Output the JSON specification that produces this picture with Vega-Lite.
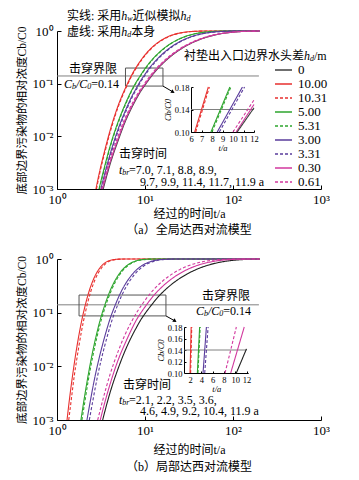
{
"$schema":"https://vega.github.io/schema/vega-lite/v6.json",
"padding":{"left":16,"top":10,"right":0,"bottom":0},
"background":"white",
"bounds":"flush",
"spacing":70,
"config":{
 "font":"Liberation Serif, Noto Sans CJK SC",
 "view":{"stroke":null},
 "axis":{"grid":false,"domainColor":"#000","tickColor":"#000","labelColor":"#000","titleColor":"#000","titleFontWeight":"normal","labelFont":"Liberation Serif","titleFont":"Liberation Serif, Noto Sans CJK SC","labelFlush":false,"labelOverlap":false,"domainWidth":1,"tickWidth":1},
 "title":{"fontWeight":"normal","color":"#000","font":"Liberation Serif, Noto Sans CJK SC","fontSize":12},
 "legend":{"labelFont":"Liberation Serif","labelColor":"#000"}
},
"resolve":{"scale":{"color":"independent","strokeDash":"independent"}},
"datasets":{
"ca":[
{"s":"0","t":3.35,"c":0.001},{"s":"0","t":4,"c":0.0029},{"s":"0","t":5,"c":0.0087},{"s":"0","t":6,"c":0.0195},{"s":"0","t":7,"c":0.034},{"s":"0","t":8,"c":0.052},{"s":"0","t":9,"c":0.073},{"s":"0","t":10,"c":0.094},{"s":"0","t":11.9,"c":0.14},{"s":"0","t":14,"c":0.194},{"s":"0","t":17,"c":0.268},{"s":"0","t":20,"c":0.339},{"s":"0","t":25,"c":0.443},{"s":"0","t":30,"c":0.532},{"s":"0","t":40,"c":0.667},{"s":"0","t":50,"c":0.761},{"s":"0","t":70,"c":0.875},{"s":"0","t":100,"c":0.95},{"s":"0","t":150,"c":0.989},{"s":"0","t":200,"c":0.997},
{"s":"10.00","t":2.77,"c":0.001},{"s":"10.00","t":3,"c":0.0019},{"s":"10.00","t":3.5,"c":0.0055},{"s":"10.00","t":4,"c":0.0127},{"s":"10.00","t":5,"c":0.04},{"s":"10.00","t":6,"c":0.083},{"s":"10.00","t":7,"c":0.142},{"s":"10.00","t":8,"c":0.2085},{"s":"10.00","t":10,"c":0.352},{"s":"10.00","t":12,"c":0.487},{"s":"10.00","t":15,"c":0.653},{"s":"10.00","t":20,"c":0.83},{"s":"10.00","t":25,"c":0.919},{"s":"10.00","t":30,"c":0.961},{"s":"10.00","t":40,"c":0.9919},{"s":"10.00","t":50,"c":0.9983},{"s":"10.00","t":70,"c":0.9999},{"s":"10.00","t":200,"c":1},
{"s":"10.31","t":2.81,"c":0.001},{"s":"10.31","t":3.04,"c":0.0019},{"s":"10.31","t":3.55,"c":0.0055},{"s":"10.31","t":4.06,"c":0.0127},{"s":"10.31","t":5.07,"c":0.04},{"s":"10.31","t":6.08,"c":0.083},{"s":"10.31","t":7.1,"c":0.142},{"s":"10.31","t":8.11,"c":0.2085},{"s":"10.31","t":10.14,"c":0.352},{"s":"10.31","t":12.17,"c":0.487},{"s":"10.31","t":15.21,"c":0.653},{"s":"10.31","t":20.28,"c":0.83},{"s":"10.31","t":25.35,"c":0.919},{"s":"10.31","t":30.42,"c":0.961},{"s":"10.31","t":40.56,"c":0.9919},{"s":"10.31","t":50.7,"c":0.9983},{"s":"10.31","t":71,"c":0.9999},{"s":"10.31","t":200,"c":1},
{"s":"5.00","t":3,"c":0.001},{"s":"5.00","t":3.5,"c":0.0028},{"s":"5.00","t":4,"c":0.0064},{"s":"5.00","t":5,"c":0.0198},{"s":"5.00","t":6,"c":0.042},{"s":"5.00","t":7,"c":0.073},{"s":"5.00","t":8,"c":0.109},{"s":"5.00","t":8.8,"c":0.14},{"s":"5.00","t":10,"c":0.193},{"s":"5.00","t":12,"c":0.283},{"s":"5.00","t":15,"c":0.412},{"s":"5.00","t":20,"c":0.59},{"s":"5.00","t":25,"c":0.718},{"s":"5.00","t":30,"c":0.808},{"s":"5.00","t":40,"c":0.91},{"s":"5.00","t":50,"c":0.959},{"s":"5.00","t":70,"c":0.991},{"s":"5.00","t":100,"c":0.999},{"s":"5.00","t":200,"c":1},
{"s":"5.31","t":3.03,"c":0.001},{"s":"5.31","t":3.54,"c":0.0028},{"s":"5.31","t":4.04,"c":0.0064},{"s":"5.31","t":5.06,"c":0.0198},{"s":"5.31","t":6.07,"c":0.042},{"s":"5.31","t":7.08,"c":0.073},{"s":"5.31","t":8.09,"c":0.109},{"s":"5.31","t":8.9,"c":0.14},{"s":"5.31","t":10.11,"c":0.193},{"s":"5.31","t":12.13,"c":0.283},{"s":"5.31","t":15.17,"c":0.412},{"s":"5.31","t":20.22,"c":0.59},{"s":"5.31","t":25.28,"c":0.718},{"s":"5.31","t":30.33,"c":0.808},{"s":"5.31","t":40.44,"c":0.91},{"s":"5.31","t":50.55,"c":0.959},{"s":"5.31","t":70.8,"c":0.991},{"s":"5.31","t":101,"c":0.999},{"s":"5.31","t":200,"c":1},
{"s":"3.00","t":3.15,"c":0.001},{"s":"3.00","t":3.5,"c":0.002},{"s":"3.00","t":4,"c":0.0045},{"s":"3.00","t":5,"c":0.0144},{"s":"3.00","t":6,"c":0.031},{"s":"3.00","t":7,"c":0.055},{"s":"3.00","t":8,"c":0.083},{"s":"3.00","t":9,"c":0.117},{"s":"3.00","t":9.7,"c":0.14},{"s":"3.00","t":11,"c":0.19},{"s":"3.00","t":13,"c":0.265},{"s":"3.00","t":16,"c":0.374},{"s":"3.00","t":20,"c":0.503},{"s":"3.00","t":25,"c":0.631},{"s":"3.00","t":30,"c":0.727},{"s":"3.00","t":40,"c":0.851},{"s":"3.00","t":50,"c":0.919},{"s":"3.00","t":70,"c":0.975},{"s":"3.00","t":100,"c":0.9957},{"s":"3.00","t":150,"c":0.9997},{"s":"3.00","t":200,"c":1},
{"s":"3.31","t":3.22,"c":0.001},{"s":"3.31","t":3.57,"c":0.002},{"s":"3.31","t":4.08,"c":0.0045},{"s":"3.31","t":5.1,"c":0.0144},{"s":"3.31","t":6.13,"c":0.031},{"s":"3.31","t":7.15,"c":0.055},{"s":"3.31","t":8.17,"c":0.083},{"s":"3.31","t":9.19,"c":0.117},{"s":"3.31","t":9.9,"c":0.14},{"s":"3.31","t":11.23,"c":0.19},{"s":"3.31","t":13.27,"c":0.265},{"s":"3.31","t":16.34,"c":0.374},{"s":"3.31","t":20.42,"c":0.503},{"s":"3.31","t":25.5,"c":0.631},{"s":"3.31","t":30.6,"c":0.727},{"s":"3.31","t":40.8,"c":0.851},{"s":"3.31","t":51,"c":0.919},{"s":"3.31","t":71.5,"c":0.975},{"s":"3.31","t":102,"c":0.9957},{"s":"3.31","t":153,"c":0.9997},{"s":"3.31","t":200,"c":1},
{"s":"0.30","t":3.29,"c":0.001},{"s":"0.30","t":3.93,"c":0.0029},{"s":"0.30","t":4.92,"c":0.0087},{"s":"0.30","t":5.9,"c":0.0195},{"s":"0.30","t":6.88,"c":0.034},{"s":"0.30","t":7.86,"c":0.052},{"s":"0.30","t":8.85,"c":0.073},{"s":"0.30","t":9.83,"c":0.094},{"s":"0.30","t":11.7,"c":0.14},{"s":"0.30","t":13.76,"c":0.194},{"s":"0.30","t":16.71,"c":0.268},{"s":"0.30","t":19.66,"c":0.339},{"s":"0.30","t":24.58,"c":0.443},{"s":"0.30","t":29.49,"c":0.532},{"s":"0.30","t":39.32,"c":0.667},{"s":"0.30","t":49.15,"c":0.761},{"s":"0.30","t":68.81,"c":0.875},{"s":"0.30","t":98.3,"c":0.95},{"s":"0.30","t":147.5,"c":0.989},{"s":"0.30","t":200,"c":0.998},
{"s":"0.61","t":3.21,"c":0.001},{"s":"0.61","t":3.83,"c":0.0029},{"s":"0.61","t":4.79,"c":0.0087},{"s":"0.61","t":5.75,"c":0.0195},{"s":"0.61","t":6.71,"c":0.034},{"s":"0.61","t":7.66,"c":0.052},{"s":"0.61","t":8.62,"c":0.073},{"s":"0.61","t":9.58,"c":0.094},{"s":"0.61","t":11.4,"c":0.14},{"s":"0.61","t":13.41,"c":0.194},{"s":"0.61","t":16.29,"c":0.268},{"s":"0.61","t":19.16,"c":0.339},{"s":"0.61","t":23.95,"c":0.443},{"s":"0.61","t":28.74,"c":0.532},{"s":"0.61","t":38.32,"c":0.667},{"s":"0.61","t":47.9,"c":0.761},{"s":"0.61","t":67.06,"c":0.875},{"s":"0.61","t":95.8,"c":0.95},{"s":"0.61","t":143.7,"c":0.989},{"s":"0.61","t":200,"c":0.998}
],
"cb":[
{"s":"0","t":3.3,"c":0.001},{"s":"0","t":4,"c":0.0032},{"s":"0","t":5,"c":0.0095},{"s":"0","t":6,"c":0.0203},{"s":"0","t":7,"c":0.035},{"s":"0","t":8,"c":0.053},{"s":"0","t":9,"c":0.0745},{"s":"0","t":10,"c":0.096},{"s":"0","t":11.9,"c":0.14},{"s":"0","t":14,"c":0.194},{"s":"0","t":17,"c":0.267},{"s":"0","t":20,"c":0.336},{"s":"0","t":25,"c":0.438},{"s":"0","t":30,"c":0.524},{"s":"0","t":40,"c":0.6575},{"s":"0","t":50,"c":0.751},{"s":"0","t":70,"c":0.866},{"s":"0","t":100,"c":0.944},{"s":"0","t":150,"c":0.9865},{"s":"0","t":200,"c":0.9967},
{"s":"10.00","t":1.3,"c":0.001},{"s":"10.00","t":1.4,"c":0.0028},{"s":"10.00","t":1.5,"c":0.0066},{"s":"10.00","t":1.6,"c":0.0137},{"s":"10.00","t":1.8,"c":0.0434},{"s":"10.00","t":2.0,"c":0.101},{"s":"10.00","t":2.1,"c":0.14},{"s":"10.00","t":2.3,"c":0.242},{"s":"10.00","t":2.6,"c":0.42},{"s":"10.00","t":3.0,"c":0.649},{"s":"10.00","t":3.5,"c":0.845},{"s":"10.00","t":4,"c":0.941},{"s":"10.00","t":5,"c":0.994},{"s":"10.00","t":6,"c":0.9995},{"s":"10.00","t":8,"c":1},{"s":"10.00","t":200,"c":1},
{"s":"10.31","t":1.36,"c":0.001},{"s":"10.31","t":1.47,"c":0.0028},{"s":"10.31","t":1.57,"c":0.0066},{"s":"10.31","t":1.68,"c":0.0137},{"s":"10.31","t":1.89,"c":0.0434},{"s":"10.31","t":2.1,"c":0.101},{"s":"10.31","t":2.2,"c":0.14},{"s":"10.31","t":2.41,"c":0.242},{"s":"10.31","t":2.72,"c":0.42},{"s":"10.31","t":3.14,"c":0.649},{"s":"10.31","t":3.67,"c":0.845},{"s":"10.31","t":4.19,"c":0.941},{"s":"10.31","t":5.24,"c":0.994},{"s":"10.31","t":6.29,"c":0.9995},{"s":"10.31","t":8.4,"c":1},{"s":"10.31","t":200,"c":1},
{"s":"5.00","t":1.87,"c":0.001},{"s":"5.00","t":2.0,"c":0.00205},{"s":"5.00","t":2.2,"c":0.0053},{"s":"5.00","t":2.5,"c":0.0164},{"s":"5.00","t":2.8,"c":0.0383},{"s":"5.00","t":3.1,"c":0.074},{"s":"5.00","t":3.5,"c":0.14},{"s":"5.00","t":4,"c":0.253},{"s":"5.00","t":4.5,"c":0.38},{"s":"5.00","t":5,"c":0.507},{"s":"5.00","t":6,"c":0.717},{"s":"5.00","t":7,"c":0.852},{"s":"5.00","t":8,"c":0.927},{"s":"5.00","t":10,"c":0.985},{"s":"5.00","t":12,"c":0.997},{"s":"5.00","t":15,"c":0.9998},{"s":"5.00","t":20,"c":1},{"s":"5.00","t":200,"c":1},
{"s":"5.31","t":1.92,"c":0.001},{"s":"5.31","t":2.06,"c":0.00205},{"s":"5.31","t":2.26,"c":0.0053},{"s":"5.31","t":2.57,"c":0.0164},{"s":"5.31","t":2.88,"c":0.0383},{"s":"5.31","t":3.19,"c":0.074},{"s":"5.31","t":3.6,"c":0.14},{"s":"5.31","t":4.12,"c":0.253},{"s":"5.31","t":4.63,"c":0.38},{"s":"5.31","t":5.14,"c":0.507},{"s":"5.31","t":6.17,"c":0.717},{"s":"5.31","t":7.2,"c":0.852},{"s":"5.31","t":8.23,"c":0.927},{"s":"5.31","t":10.29,"c":0.985},{"s":"5.31","t":12.35,"c":0.997},{"s":"5.31","t":15.4,"c":0.9998},{"s":"5.31","t":20.6,"c":1},{"s":"5.31","t":200,"c":1},
{"s":"3.00","t":2.19,"c":0.001},{"s":"3.00","t":2.4,"c":0.00233},{"s":"3.00","t":2.7,"c":0.0064},{"s":"3.00","t":3,"c":0.0138},{"s":"3.00","t":3.5,"c":0.0366},{"s":"3.00","t":4,"c":0.076},{"s":"3.00","t":4.6,"c":0.14},{"s":"3.00","t":5.2,"c":0.223},{"s":"3.00","t":6,"c":0.344},{"s":"3.00","t":7,"c":0.494},{"s":"3.00","t":8,"c":0.626},{"s":"3.00","t":10,"c":0.812},{"s":"3.00","t":12,"c":0.912},{"s":"3.00","t":15,"c":0.974},{"s":"3.00","t":20,"c":0.9969},{"s":"3.00","t":30,"c":1},{"s":"3.00","t":200,"c":1},
{"s":"3.31","t":2.33,"c":0.001},{"s":"3.31","t":2.56,"c":0.00233},{"s":"3.31","t":2.88,"c":0.0064},{"s":"3.31","t":3.2,"c":0.0138},{"s":"3.31","t":3.73,"c":0.0366},{"s":"3.31","t":4.26,"c":0.076},{"s":"3.31","t":4.9,"c":0.14},{"s":"3.31","t":5.54,"c":0.223},{"s":"3.31","t":6.39,"c":0.344},{"s":"3.31","t":7.46,"c":0.494},{"s":"3.31","t":8.52,"c":0.626},{"s":"3.31","t":10.65,"c":0.812},{"s":"3.31","t":12.78,"c":0.912},{"s":"3.31","t":15.98,"c":0.974},{"s":"3.31","t":21.3,"c":0.9969},{"s":"3.31","t":32,"c":1},{"s":"3.31","t":200,"c":1},
{"s":"0.61","t":2.9,"c":0.001},{"s":"0.61","t":3.3,"c":0.0023},{"s":"0.61","t":4,"c":0.007},{"s":"0.61","t":5,"c":0.0198},{"s":"0.61","t":6,"c":0.0406},{"s":"0.61","t":7,"c":0.067},{"s":"0.61","t":8,"c":0.099},{"s":"0.61","t":9.2,"c":0.14},{"s":"0.61","t":11,"c":0.209},{"s":"0.61","t":13,"c":0.286},{"s":"0.61","t":16,"c":0.393},{"s":"0.61","t":20,"c":0.517},{"s":"0.61","t":25,"c":0.64},{"s":"0.61","t":30,"c":0.732},{"s":"0.61","t":40,"c":0.851},{"s":"0.61","t":50,"c":0.917},{"s":"0.61","t":70,"c":0.973},{"s":"0.61","t":100,"c":0.995},{"s":"0.61","t":150,"c":0.9997},{"s":"0.61","t":200,"c":1},
{"s":"0.30","t":3.1,"c":0.001},{"s":"0.30","t":3.5,"c":0.00215},{"s":"0.30","t":4,"c":0.0046},{"s":"0.30","t":5,"c":0.0137},{"s":"0.30","t":6,"c":0.0278},{"s":"0.30","t":7,"c":0.048},{"s":"0.30","t":8,"c":0.0735},{"s":"0.30","t":9,"c":0.0998},{"s":"0.30","t":10.4,"c":0.14},{"s":"0.30","t":12,"c":0.191},{"s":"0.30","t":15,"c":0.284},{"s":"0.30","t":18.7,"c":0.39},{"s":"0.30","t":22,"c":0.474},{"s":"0.30","t":27,"c":0.58},{"s":"0.30","t":33,"c":0.68},{"s":"0.30","t":40,"c":0.766},{"s":"0.30","t":50,"c":0.849},{"s":"0.30","t":70,"c":0.937},{"s":"0.30","t":100,"c":0.982},{"s":"0.30","t":150,"c":0.9976},{"s":"0.30","t":200,"c":0.9997}
],
"ia":[
{"s":"10.00","t":6.35,"c":0.10},{"s":"10.00","t":7.65,"c":0.18},
{"s":"10.31","t":6.45,"c":0.10},{"s":"10.31","t":7.75,"c":0.18},
{"s":"5.00","t":7.9,"c":0.10},{"s":"5.00","t":9.7,"c":0.18},
{"s":"5.31","t":8.0,"c":0.10},{"s":"5.31","t":9.8,"c":0.18},
{"s":"3.00","t":8.5,"c":0.10},{"s":"3.00","t":10.9,"c":0.18},
{"s":"3.31","t":8.7,"c":0.10},{"s":"3.31","t":11.1,"c":0.18},
{"s":"0.61","t":10.0,"c":0.10},{"s":"0.61","t":12,"c":0.157},
{"s":"0.30","t":10.3,"c":0.10},{"s":"0.30","t":12,"c":0.149},
{"s":"0","t":10.4,"c":0.10},{"s":"0","t":12,"c":0.143}
],
"ib":[
{"s":"10.00","t":2.0,"c":0.10},{"s":"10.00","t":2.2,"c":0.18},
{"s":"10.31","t":2.1,"c":0.10},{"s":"10.31","t":2.3,"c":0.18},
{"s":"5.00","t":3.3,"c":0.10},{"s":"5.00","t":3.7,"c":0.18},
{"s":"5.31","t":3.4,"c":0.10},{"s":"5.31","t":3.8,"c":0.18},
{"s":"3.00","t":4.3,"c":0.10},{"s":"3.00","t":4.9,"c":0.18},
{"s":"3.31","t":4.6,"c":0.10},{"s":"3.31","t":5.2,"c":0.18},
{"s":"0.61","t":8.2,"c":0.10},{"s":"0.61","t":10.2,"c":0.18},
{"s":"0.30","t":9.2,"c":0.10},{"s":"0.30","t":11.6,"c":0.18},
{"s":"0","t":10.2,"c":0.10},{"s":"0","t":12,"c":0.142}
],
"tx":[
{"p":"a","k":"n","t":1.299,"c":1.926,"s":"实线: 采用"},
{"p":"a","k":"i","t":5.379,"c":1.926,"s":"h"},
{"p":"a","k":"s","t":6.293,"c":1.926,"s":"w"},
{"p":"a","k":"n","t":7.228,"c":1.926,"s":"近似模拟"},
{"p":"a","k":"i","t":25.38,"c":1.926,"s":"h"},
{"p":"a","k":"s","t":29.70,"c":1.926,"s":"d"},
{"p":"a","k":"n","t":1.299,"c":0.9573,"s":"虚线: 采用"},
{"p":"a","k":"i","t":5.379,"c":0.9573,"s":"h"},
{"p":"a","k":"s","t":6.293,"c":0.9573,"s":"d"},
{"p":"a","k":"n","t":6.986,"c":0.9573,"s":"本身"},
{"p":"a","k":"n","t":1.3687,"c":0.1901,"s":"击穿界限"},
{"p":"a","k":"i","t":1.2009,"c":0.0987,"s":"C"},
{"p":"a","k":"s","t":1.4808,"c":0.0987,"s":"b"},
{"p":"a","k":"i","t":1.6443,"c":0.0987,"s":"/C"},
{"p":"a","k":"s","t":2.2093,"c":0.0987,"s":"0"},
{"p":"a","k":"n","t":2.4541,"c":0.0987,"s":"=0.14"},
{"p":"a","k":"n","t":27.74,"c":0.33,"s":"衬垫出入口边界水头差"},
{"p":"a","k":"i","t":641,"c":0.33,"s":"h"},
{"p":"a","k":"s","t":749.9,"c":0.33,"s":"d"},
{"p":"a","k":"n","t":832.6,"c":0.33,"s":"/m"},
{"p":"a","k":"n","t":5.064,"c":0.004634,"s":"击穿时间"},
{"p":"a","k":"i","t":5.064,"c":0.002304,"s":"t"},
{"p":"a","k":"s","t":5.521,"c":0.002304,"s":"br"},
{"p":"a","k":"n","t":6.579,"c":0.002304,"s":"=7.0, 7.1, 8.8, 8.9,"},
{"p":"a","k":"n","t":8.775,"c":0.001364,"s":"9.7, 9.9, 11.4, 11.7, 11.9 a"},
{"p":"b","k":"n","t":44.44,"c":0.2047,"s":"击穿界限"},
{"p":"b","k":"i","t":37.97,"c":0.1075,"s":"C"},
{"p":"b","k":"s","t":46.81,"c":0.1075,"s":"b"},
{"p":"b","k":"i","t":51.99,"c":0.1075,"s":"/C"},
{"p":"b","k":"s","t":69.88,"c":0.1075,"s":"0"},
{"p":"b","k":"n","t":77.62,"c":0.1075,"s":"=0.14"},
{"p":"b","k":"n","t":5.623,"c":0.004503,"s":"击穿时间"},
{"p":"b","k":"i","t":5.064,"c":0.002367,"s":"t"},
{"p":"b","k":"s","t":5.521,"c":0.002367,"s":"br"},
{"p":"b","k":"n","t":6.579,"c":0.002367,"s":"=2.1, 2.2, 3.5, 3.6,"},
{"p":"b","k":"n","t":8.775,"c":0.001477,"s":"4.6, 4.9, 9.2, 10.4, 11.9 a"}
]
},
"vconcat":[
{
 "width":264,"height":158,
 "title":{"text":"（a）全局达西对流模型","orient":"bottom","offset":6},
 "resolve":{"scale":{"x":"independent","y":"independent"}},
 "layer":[
  {"layer":[
   {"data":{"values":[{"t":1,"t2":197,"c":0.14}]},
    "mark":{"type":"rule","color":"#808080","strokeWidth":1},
    "encoding":{
     "x":{"field":"t","type":"quantitative","scale":{"type":"log","domain":[1,1000],"nice":false},
      "axis":{"orient":"bottom","values":[1,10,100,1000],"labelExpr":"datum.value < 5 ? '10⁰' : datum.value < 50 ? '10¹' : datum.value < 500 ? '10²' : '10³'","tickSize":-4,"labelPadding":8,"labelFontSize":13,"title":"经过的时间t/a","titleFontSize":12,"titlePadding":2}},
     "x2":{"field":"t2"},
     "y":{"field":"c","type":"quantitative","scale":{"type":"log","domain":[0.001,1],"nice":false},
      "axis":{"orient":"left","values":[0.001,0.01,0.1,1],"labelExpr":"datum.value >= 0.9 ? '10⁰' : datum.value >= 0.09 ? '10⁻¹' : datum.value >= 0.009 ? '10⁻²' : '10⁻³'","tickSize":-4,"labelPadding":8,"labelFontSize":13,"title":"底部边界污染物的相对浓度Cb/C0","titleFontSize":11.5,"titleX":-30}}
    }},
   {"data":{"values":[{"t":6,"t2":16,"c":0.09,"c2":0.198}]},
    "mark":{"type":"rect","filled":false,"color":"#555","strokeWidth":1},
    "encoding":{"x":{"field":"t","type":"quantitative"},"x2":{"field":"t2"},"y":{"field":"c","type":"quantitative"},"y2":{"field":"c2"}}},
   {"data":{"values":[{"t":16,"t2":20.8,"c":0.09,"c2":0.0696}]},
    "mark":{"type":"rule","color":"#000","strokeWidth":1},
    "encoding":{"x":{"field":"t","type":"quantitative"},"x2":{"field":"t2"},"y":{"field":"c","type":"quantitative"},"y2":{"field":"c2"}}},
   {"data":{"values":[{"t":20.8,"c":0.0696}]},
    "mark":{"type":"point","shape":"triangle-right","angle":31,"size":18,"filled":true,"color":"#000","opacity":1},
    "encoding":{"x":{"field":"t","type":"quantitative"},"y":{"field":"c","type":"quantitative"}}},
   {"data":{"name":"ca"},
    "mark":{"type":"line","strokeWidth":1.1,"interpolate":"monotone"},
    "encoding":{
     "x":{"field":"t","type":"quantitative"},
     "y":{"field":"c","type":"quantitative"},
     "color":{"field":"s","type":"nominal","scale":{"domain":["0","10.00","10.31","5.00","5.31","3.00","3.31","0.30","0.61"],"range":["#404040","#e8312f","#e8312f","#2ea52e","#2ea52e","#5a3c9c","#5a3c9c","#d2389e","#d2389e"]},
      "legend":{"orient":"none","legendX":217,"legendY":32.3,"title":null,"symbolType":"stroke","symbolSize":289,"symbolStrokeWidth":1.3,"labelFontSize":13,"labelOffset":5,"rowPadding":-0.6,"clipHeight":13.4,"padding":0}},
     "strokeDash":{"field":"s","type":"nominal","scale":{"domain":["0","10.00","10.31","5.00","5.31","3.00","3.31","0.30","0.61"],"range":[[1,0],[1,0],[3,2],[1,0],[3,2],[1,0],[3,2],[1,0],[3,2]]},
      "legend":{"orient":"none","legendX":217,"legendY":32.3,"title":null,"symbolType":"stroke","symbolSize":289,"symbolStrokeWidth":1.3,"labelFontSize":13,"labelOffset":5,"rowPadding":-0.6,"clipHeight":13.4,"padding":0}}
    }},
   {"data":{"name":"tx"},"transform":[{"filter":"datum.p == 'a' && datum.k == 'n'"}],
    "mark":{"type":"text","align":"left","baseline":"middle","fontSize":12,"color":"#000"},
    "encoding":{"x":{"field":"t","type":"quantitative"},"y":{"field":"c","type":"quantitative"},"text":{"field":"s"}}},
   {"data":{"name":"tx"},"transform":[{"filter":"datum.p == 'a' && datum.k == 'i'"}],
    "mark":{"type":"text","align":"left","baseline":"middle","fontSize":12,"fontStyle":"italic","color":"#000"},
    "encoding":{"x":{"field":"t","type":"quantitative"},"y":{"field":"c","type":"quantitative"},"text":{"field":"s"}}},
   {"data":{"name":"tx"},"transform":[{"filter":"datum.p == 'a' && datum.k == 's'"}],
    "mark":{"type":"text","align":"left","baseline":"middle","fontSize":8,"fontStyle":"italic","dy":3,"color":"#000"},
    "encoding":{"x":{"field":"t","type":"quantitative"},"y":{"field":"c","type":"quantitative"},"text":{"field":"s"}}}
  ]},
  {"layer":[
   {"data":{"values":[{"t":6,"t2":12,"c":0.14}]},
    "mark":{"type":"rule","color":"#808080","strokeWidth":1},
    "encoding":{
     "x":{"field":"t","type":"quantitative","scale":{"domain":[6,12],"range":[134,197],"nice":false,"zero":false},
      "axis":{"orient":"bottom","offset":-57,"values":[6,7,8,9,10,11,12],"labelFontSize":8.5,"tickSize":-2,"labelPadding":4,"title":"t/a","titleFontSize":8.5,"titleFontStyle":"italic","titlePadding":1}},
     "x2":{"field":"t2"},
     "y":{"field":"c","type":"quantitative","scale":{"domain":[0.1,0.18],"range":[101,56],"nice":false,"zero":false},
      "axis":{"orient":"left","offset":-134,"values":[0.1,0.12,0.14,0.16,0.18],"format":".2f","labelFontSize":8.5,"tickSize":-2,"labelPadding":4,"title":"Cb/C0","titleFontSize":8.5,"titleFontStyle":"italic","titlePadding":2}}
    }},
   {"data":{"name":"ia"},
    "mark":{"type":"line","strokeWidth":1.1},
    "encoding":{
     "x":{"field":"t","type":"quantitative"},
     "y":{"field":"c","type":"quantitative"},
     "color":{"field":"s","type":"nominal"},
     "strokeDash":{"field":"s","type":"nominal"}
    }}
  ]}
 ]
},
{
 "width":264,"height":161,
 "title":{"text":"（b）局部达西对流模型","orient":"bottom","offset":7},
 "resolve":{"scale":{"x":"independent","y":"independent"}},
 "layer":[
  {"layer":[
   {"data":{"values":[{"t":1,"t2":197,"c":0.14}]},
    "mark":{"type":"rule","color":"#808080","strokeWidth":1},
    "encoding":{
     "x":{"field":"t","type":"quantitative","scale":{"type":"log","domain":[1,1000],"nice":false},
      "axis":{"orient":"bottom","values":[1,10,100,1000],"labelExpr":"datum.value < 5 ? '10⁰' : datum.value < 50 ? '10¹' : datum.value < 500 ? '10²' : '10³'","tickSize":-4,"labelPadding":8,"labelFontSize":13,"title":"经过的时间t/a","titleFontSize":12,"titlePadding":7}},
     "x2":{"field":"t2"},
     "y":{"field":"c","type":"quantitative","scale":{"type":"log","domain":[0.001,1],"nice":false},
      "axis":{"orient":"left","values":[0.001,0.01,0.1,1],"labelExpr":"datum.value >= 0.9 ? '10⁰' : datum.value >= 0.09 ? '10⁻¹' : datum.value >= 0.009 ? '10⁻²' : '10⁻³'","tickSize":-4,"labelPadding":8,"labelFontSize":13,"title":"底部边界污染物的相对浓度Cb/C0","titleFontSize":11.5,"titleX":-30}}
    }},
   {"data":{"values":[{"t":1.78,"t2":17.3,"c":0.087,"c2":0.213}]},
    "mark":{"type":"rect","filled":false,"color":"#555","strokeWidth":1},
    "encoding":{"x":{"field":"t","type":"quantitative"},"x2":{"field":"t2"},"y":{"field":"c","type":"quantitative"},"y2":{"field":"c2"}}},
   {"data":{"values":[{"t":17.3,"t2":21.9,"c":0.087,"c2":0.07}]},
    "mark":{"type":"rule","color":"#000","strokeWidth":1},
    "encoding":{"x":{"field":"t","type":"quantitative"},"x2":{"field":"t2"},"y":{"field":"c","type":"quantitative"},"y2":{"field":"c2"}}},
   {"data":{"values":[{"t":21.9,"c":0.07}]},
    "mark":{"type":"point","shape":"triangle-right","angle":34,"size":18,"filled":true,"color":"#000","opacity":1},
    "encoding":{"x":{"field":"t","type":"quantitative"},"y":{"field":"c","type":"quantitative"}}},
   {"data":{"name":"cb"},
    "mark":{"type":"line","strokeWidth":1.1,"interpolate":"monotone"},
    "encoding":{
     "x":{"field":"t","type":"quantitative"},
     "y":{"field":"c","type":"quantitative"},
     "color":{"field":"s","type":"nominal","scale":{"domain":["0","10.00","10.31","5.00","5.31","3.00","3.31","0.30","0.61"],"range":["#202020","#e8312f","#e8312f","#2ea52e","#2ea52e","#5a3c9c","#5a3c9c","#d2389e","#d2389e"]},"legend":null},
     "strokeDash":{"field":"s","type":"nominal","scale":{"domain":["0","10.00","10.31","5.00","5.31","3.00","3.31","0.30","0.61"],"range":[[1,0],[1,0],[3,2],[1,0],[3,2],[1,0],[3,2],[1,0],[3,2]]},"legend":null}
    }},
   {"data":{"name":"tx"},"transform":[{"filter":"datum.p == 'b' && datum.k == 'n'"}],
    "mark":{"type":"text","align":"left","baseline":"middle","fontSize":12,"color":"#000"},
    "encoding":{"x":{"field":"t","type":"quantitative"},"y":{"field":"c","type":"quantitative"},"text":{"field":"s"}}},
   {"data":{"name":"tx"},"transform":[{"filter":"datum.p == 'b' && datum.k == 'i'"}],
    "mark":{"type":"text","align":"left","baseline":"middle","fontSize":12,"fontStyle":"italic","color":"#000"},
    "encoding":{"x":{"field":"t","type":"quantitative"},"y":{"field":"c","type":"quantitative"},"text":{"field":"s"}}},
   {"data":{"name":"tx"},"transform":[{"filter":"datum.p == 'b' && datum.k == 's'"}],
    "mark":{"type":"text","align":"left","baseline":"middle","fontSize":8,"fontStyle":"italic","dy":3,"color":"#000"},
    "encoding":{"x":{"field":"t","type":"quantitative"},"y":{"field":"c","type":"quantitative"},"text":{"field":"s"}}}
  ]},
  {"layer":[
   {"data":{"values":[{"t":1,"t2":12,"c":0.14}]},
    "mark":{"type":"rule","color":"#808080","strokeWidth":1},
    "encoding":{
     "x":{"field":"t","type":"quantitative","scale":{"domain":[1,12.3],"range":[127.4,191.2],"nice":false,"zero":false},
      "axis":{"orient":"bottom","offset":-47,"values":[2,4,6,8,10,12],"labelFontSize":8.5,"tickSize":-2,"labelPadding":4,"title":"t/a","titleFontSize":8.5,"titleFontStyle":"italic","titlePadding":1}},
     "x2":{"field":"t2"},
     "y":{"field":"c","type":"quantitative","scale":{"domain":[0.1,0.18],"range":[114,68],"nice":false,"zero":false},
      "axis":{"orient":"left","offset":-127,"values":[0.1,0.12,0.14,0.16,0.18],"format":".2f","labelFontSize":8.5,"tickSize":-2,"labelPadding":4,"title":"Cb/C0","titleFontSize":8.5,"titleFontStyle":"italic","titlePadding":2}}
    }},
   {"data":{"name":"ib"},
    "mark":{"type":"line","strokeWidth":1.1},
    "encoding":{
     "x":{"field":"t","type":"quantitative"},
     "y":{"field":"c","type":"quantitative"},
     "color":{"field":"s","type":"nominal"},
     "strokeDash":{"field":"s","type":"nominal"}
    }}
  ]}
 ]
}
]
}
